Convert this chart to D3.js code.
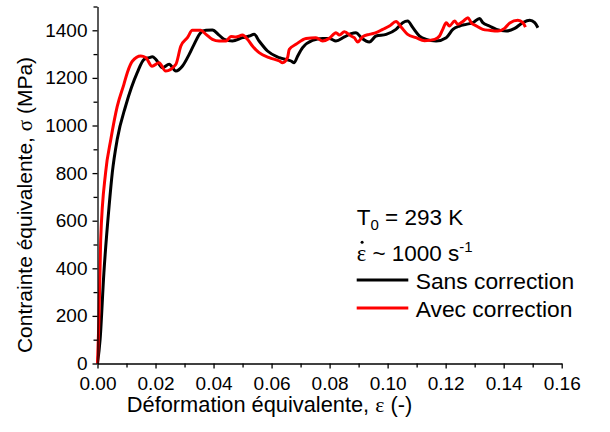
<!DOCTYPE html>
<html><head><meta charset="utf-8">
<script src="https://cdn.jsdelivr.net/npm/d3@7"></script>
<style>
body{margin:0;background:#fff;}
svg{display:block;font-family:"Liberation Sans",Arial,sans-serif;}
</style></head>
<body>
<svg id="chart" width="610" height="432"></svg>
<script>
// ---- data ----
const sansStrain = [0,0.0009,0.0022,0.0040,0.0051,0.0068,0.0097,0.0137,0.0161,0.0178,0.0189,0.0201,0.0224,0.0247,0.0270,0.0293,0.0316,0.0333,0.0356,0.0374,0.0396,0.0419,0.0437,0.0465,0.0500,0.0523,0.0540,0.0557,0.0586,0.0627,0.0667,0.0678,0.0690,0.0707,0.0741,0.0776,0.0799,0.0822,0.0851,0.0874,0.0891,0.0909,0.0937,0.0960,0.0995,0.1029,0.1052,0.1069,0.1087,0.1110,0.1133,0.1167,0.1202,0.1225,0.1248,0.1271,0.1294,0.1317,0.1328,0.1351,0.1375,0.1409,0.1438,0.1466,0.1490,0.1507,0.1518];
const sansStress = [0,101,381,661,802,942,1082,1222,1278,1285,1289,1278,1243,1257,1229,1250,1299,1341,1390,1400,1401,1380,1362,1355,1369,1376,1383,1355,1313,1285,1271,1264,1292,1327,1358,1366,1366,1355,1372,1386,1390,1369,1351,1376,1383,1404,1432,1439,1411,1376,1362,1355,1369,1404,1418,1425,1432,1450,1432,1418,1404,1397,1408,1432,1442,1432,1411];
const avecStrain = [0,0.0005,0.0011,0.0028,0.0046,0.0068,0.0091,0.0103,0.0120,0.0149,0.0166,0.0188,0.0212,0.0235,0.0270,0.0287,0.0310,0.0327,0.0356,0.0374,0.0396,0.0419,0.0443,0.0460,0.0477,0.0500,0.0517,0.0534,0.0557,0.0592,0.0627,0.0638,0.0655,0.0661,0.0684,0.0719,0.0753,0.0776,0.0799,0.0822,0.0834,0.0851,0.0874,0.0885,0.0897,0.0914,0.0937,0.0960,0.0983,0.1006,0.1029,0.1047,0.1069,0.1098,0.1127,0.1162,0.1179,0.1190,0.1202,0.1213,0.1231,0.1242,0.1259,0.1277,0.1288,0.1306,0.1328,0.1351,0.1380,0.1403,0.1421,0.1449,0.1466,0.1475];
const avecStress = [0,185,521,803,942,1080,1173,1223,1270,1292,1286,1249,1264,1229,1257,1333,1369,1400,1400,1383,1362,1355,1355,1374,1372,1380,1362,1334,1306,1285,1271,1264,1285,1320,1341,1366,1369,1355,1366,1390,1380,1394,1376,1369,1351,1373,1383,1390,1404,1418,1437,1413,1383,1369,1356,1362,1376,1404,1432,1418,1439,1425,1437,1453,1432,1418,1404,1400,1397,1408,1431,1442,1432,1413];
const xMajorTicks = [0,0.02,0.04,0.06,0.08,0.10,0.12,0.14,0.16];
const xMinorTicks = [0.01,0.03,0.05,0.07,0.09,0.11,0.13,0.15];
const yMajorTicks = [0,200,400,600,800,1000,1200,1400];
const yMinorTicks = [100,300,500,700,900,1100,1300,1500];
const seriesNames = ["Sans correction","Avec correction"];
const seriesColors = ["#000000","#ff0000"];

// ---- chart ----
const svg = d3.select("#chart");
const x = d3.scaleLinear().domain([0,0.16]).range([97.5,561.7]);
const y = d3.scaleLinear().domain([0,1500]).range([363.5,6.5]);

const series = [
  {name: seriesNames[0], color: seriesColors[0], pts: sansStrain.map((v,i)=>[v,sansStress[i]])},
  {name: seriesNames[1], color: seriesColors[1], pts: avecStrain.map((v,i)=>[v,avecStress[i]])}
];

const line = d3.line().x(d=>x(d[0])).y(d=>y(d[1])).curve(d3.curveMonotoneX);
svg.append("g").selectAll("path").data(series).join("path")
  .attr("d", d=>line(d.pts))
  .attr("fill","none")
  .attr("stroke", d=>d.color)
  .attr("stroke-width",3)
  .attr("stroke-linejoin","round");

// axes
function styleAxis(g){
  g.select(".domain").attr("stroke","#000").attr("stroke-width",1.3);
  g.selectAll(".tick line").attr("stroke","#000").attr("stroke-width",1.3);
  g.selectAll(".tick text").attr("fill","#000").style("font-size","19px").style("font-family","'Liberation Sans',Arial,sans-serif");
}
const gxMinor = svg.append("g").attr("transform","translate(0,363.5)")
  .call(d3.axisBottom(x).tickValues(xMinorTicks).tickSize(4).tickFormat(""));
gxMinor.select(".domain").remove();
gxMinor.selectAll(".tick line").attr("stroke","#000").attr("stroke-width",1.3);
const gx = svg.append("g").attr("transform","translate(0,363.5)")
  .call(d3.axisBottom(x).tickValues(xMajorTicks).tickSize(5).tickSizeOuter(0).tickPadding(8).tickFormat(d3.format(".2f")));
styleAxis(gx);

const gyMinor = svg.append("g").attr("transform","translate(97.5,0)")
  .call(d3.axisLeft(y).tickValues(yMinorTicks).tickSize(4).tickFormat(""));
gyMinor.select(".domain").remove();
gyMinor.selectAll(".tick line").attr("stroke","#000").attr("stroke-width",1.3);
const gy = svg.append("g").attr("transform","translate(97.5,0)")
  .call(d3.axisLeft(y).tickValues(yMajorTicks).tickSize(5).tickSizeOuter(0).tickPadding(5).tickFormat(d3.format("d")));
styleAxis(gy);

// axis titles
const xt = svg.append("text").attr("x",269.5).attr("y",412).attr("text-anchor","middle")
  .style("font-size","21.8px").attr("fill","#000");
xt.append("tspan").text("Déformation équivalente, ");
xt.append("tspan").style("font-family","'Liberation Serif',serif").text("ε");
xt.append("tspan").text(" (-)");

const yt = svg.append("text").attr("transform","translate(32,205) rotate(-90)").attr("text-anchor","middle")
  .style("font-size","21px").attr("fill","#000");
yt.append("tspan").text("Contrainte équivalente, ");
yt.append("tspan").style("font-family","'Liberation Serif',serif").text("σ");
yt.append("tspan").text(" (MPa)");

// annotation / legend
const lx = 356.7;
const t0 = svg.append("text").attr("x",lx).attr("y",224.5).style("font-size","22.5px").attr("fill","#000");
t0.append("tspan").text("T");
t0.append("tspan").attr("dy",5).style("font-size","15px").text("0");
t0.append("tspan").attr("dy",-5).text(" = 293 K");

const er = svg.append("text").attr("x",lx).attr("y",261).style("font-size","22.5px").attr("fill","#000");
er.append("tspan").style("font-family","'Liberation Serif',serif").text("ε");
er.append("tspan").text(" ~ 1000 s");
er.append("tspan").attr("dy",-9).style("font-size","15px").text("-1");
// dot accent above epsilon (strain rate)
svg.append("circle").attr("cx",lx+5.4).attr("cy",242.3).attr("r",1.5).attr("fill","#000");

const leg = svg.append("g").selectAll("g").data(series).join("g")
  .attr("transform",(d,i)=>`translate(${lx},${280 + i*28})`);
leg.append("line").attr("x1",0).attr("x2",51.6).attr("y1",0).attr("y2",0)
  .attr("stroke",d=>d.color).attr("stroke-width",3);
leg.append("text").attr("x",59).attr("y",9.3).style("font-size","22.8px").attr("fill","#000").text(d=>d.name);
</script>
</body></html>
